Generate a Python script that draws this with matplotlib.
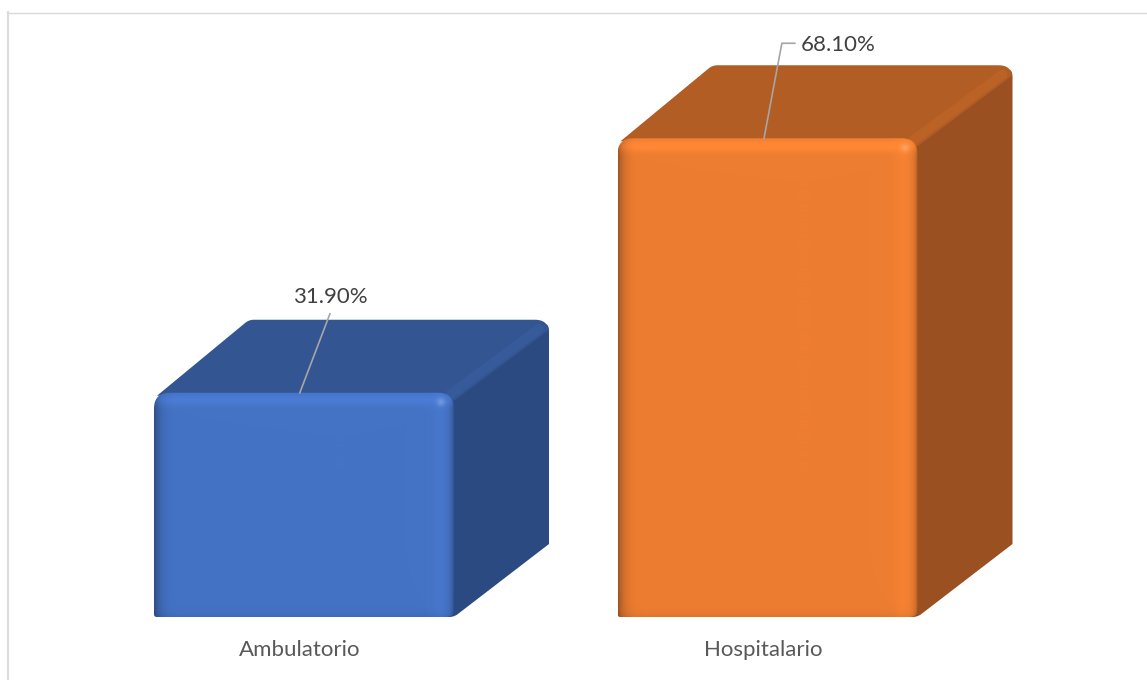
import numpy as np
import matplotlib
matplotlib.use('Agg')
import matplotlib.pyplot as plt
from matplotlib.patches import Polygon
from matplotlib.colors import to_rgb

categories = ['Ambulatorio', 'Hospitalario']
values = [31.9, 68.1]
labels = ['31.90%', '68.10%']
front_colors = ['#4472C4', '#ED7D31']
top_colors = ['#335693', '#B25D24']
side_colors = ['#2B4A82', '#9A5020']

# px per unit
W, H = 1147, 680
PX_PER_X = 463.5
PX_PER_Y = 7.03
X0 = 304.0
BASE = 617.0
BAR_W = 300 / PX_PER_X
DX = 95 / PX_PER_X
DY = 73 / PX_PER_Y
FONT = 'Lato'
FS = 16

fig = plt.figure(figsize=(W / 100, H / 100), dpi=100, facecolor='white')
ax = fig.add_axes([0, 0, 1, 1])
ax.set_xlim(-X0 / PX_PER_X, (W - X0) / PX_PER_X)
ax.set_ylim(-(H - BASE) / PX_PER_Y, BASE / PX_PER_Y)
ax.axis('off')


def rounded(verts):
    # verts are (x, y, radius px) in data units, corners become bezier curves
    scale = np.array([PX_PER_X, PX_PER_Y])
    pts = [np.array(v[:2]) * scale for v in verts]
    out = []
    n = len(pts)
    t = np.linspace(0, 1, 12)[:, None]
    for k in range(n):
        p, a, b = pts[k], pts[k - 1], pts[(k + 1) % n]
        r = verts[k][2]
        if r == 0:
            out.append(p)
            continue
        s = p + (a - p) / np.linalg.norm(a - p) * r
        e = p + (b - p) / np.linalg.norm(b - p) * r
        out.extend((1 - t) ** 2 * s + 2 * t * (1 - t) * p + t ** 2 * e)
    return np.array(out) / scale


for i, v in enumerate(values):
    x0, x1 = i - BAR_W / 2, i + BAR_W / 2
    base = np.array(to_rgb(front_colors[i]))
    top_c = np.array(to_rgb(top_colors[i]))

    # side face
    ax.add_patch(Polygon(rounded([(x1 - 14 / PX_PER_X, 0, 0), (x1, 0, 5), (x1 + DX, DY, 0), (x1 + DX, v + DY, 12),
                                  (x1 - 6 / PX_PER_X, v, 0)]),
                         closed=True, fc=side_colors[i], ec='none', zorder=2))
    # top face
    ax.add_patch(Polygon(rounded([(x0 + 3 / PX_PER_X, v - 3 / PX_PER_Y, 0), (x0 + DX, v + DY, 5),
                                  (x1 + DX, v + DY, 14), (x1 + DX, v + DY - 10 / PX_PER_Y, 0),
                                  (x1, v - 8 / PX_PER_Y, 0)]),
                         closed=True, fc=top_colors[i], ec='none', zorder=3))
    # lighter bevel running back along the top right edge
    ax.plot([x1 - 4 / PX_PER_X, x1 + DX - 10 / PX_PER_X], [v - 2 / PX_PER_Y, v + DY - 9 / PX_PER_Y],
            color=tuple(np.clip(top_c * 1.05, 0, 1)), lw=7, solid_capstyle='round', zorder=3.5)

    # front face gradient, clipped to rounded outline
    nx, ny = 300, int(v * PX_PER_Y)
    px = np.arange(nx)[None, :] + 0.5
    py = np.arange(ny)[:, None] + 0.5
    left = np.exp(-px / 5)
    left_soft = np.clip(1 - px / 16, 0, 1)
    right = np.exp(-(nx - px) / 3)
    glow = np.exp(-((nx - px - 14) / 9) ** 2)
    topb = np.exp(-((py - 8) / 6) ** 2)
    bottom = np.exp(-(ny - py) / 4)
    gain = 1 + 0.09 * topb + 0.04 * glow * (1 - topb) - 0.30 * left - 0.05 * left_soft \
        - 0.30 * right - 0.07 * bottom
    img = base[None, None, :] * gain[..., None]
    # small highlight at the top right corner
    spot = np.exp(-(((nx - px - 13) / 4) ** 2 + ((py - 10) / 4) ** 2))
    img = img + (1 - img) * 0.22 * spot[..., None]
    im = ax.imshow(np.clip(img, 0, 1), extent=(x0, x1, 0, v), origin='upper', aspect='auto', zorder=4,
                   interpolation='bilinear')
    outline = Polygon(rounded([(x0, 0, 3), (x0, v, 16), (x1, v, 16), (x1, 0, 8)]),
                      closed=True, fc='none', ec='none')
    ax.add_patch(outline)
    im.set_clip_path(outline)

    ax.text(i - 4.5 / PX_PER_X, -33 / PX_PER_Y, categories[i], ha='center', va='center',
            fontsize=FS, color='#595959', family=FONT)

# value labels with leader lines
ax.plot([-0.009, 0.056], [values[0], values[0] + 79 / PX_PER_Y], color='#A6A6A6', lw=1.2, zorder=6)
ax.text(0.056, values[0] + 96 / PX_PER_Y, labels[0], ha='center', va='center', fontsize=FS,
        color='#404040', family=FONT)
ax.plot([0.9925, 1.031, 1.059], [values[1], values[1] + 95 / PX_PER_Y, values[1] + 95 / PX_PER_Y],
        color='#A6A6A6', lw=1.2, zorder=6)
ax.text(1.072, values[1] + 93 / PX_PER_Y, labels[1], ha='left', va='center', fontsize=FS,
        color='#404040', family=FONT)

# chart frame, only top and left show
fig.add_artist(plt.Line2D([8 / W, 8 / W], [0, 1 - 12 / H], color='#DDDDDD', lw=1.5))
fig.add_artist(plt.Line2D([7 / W, 1], [1 - 12.5 / H, 1 - 12.5 / H], color='#D9D9D9', lw=1.0))

fig.savefig('out.png', dpi=100)
